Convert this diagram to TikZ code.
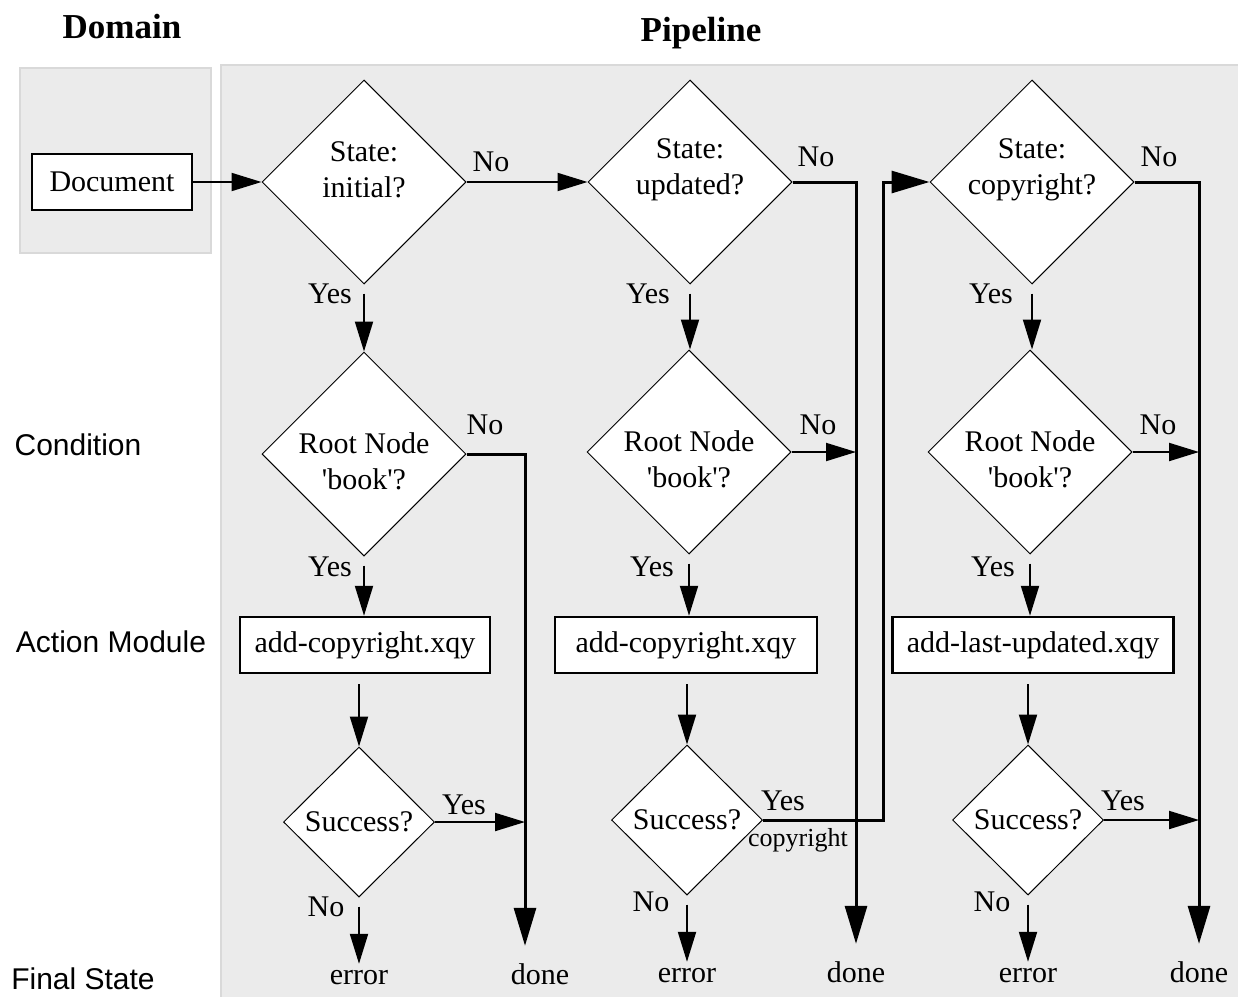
\documentclass[tikz,border=0pt]{standalone}
\usepackage{fontspec}
\setmainfont{Liberation Serif}
\setsansfont{Liberation Sans}
\usetikzlibrary{shapes.geometric,arrows.meta}

\begin{document}
\begin{tikzpicture}[x=1pt, y=-1pt,
                    every node/.style={font=\fontsize{30}{36}\selectfont,
                                       inner sep=0pt},
                    area/.style={fill=black!8, draw=black!15, line width=2pt},
                    ask/.style={diamond, draw, fill=white, line width=1pt,
                                minimum width=204pt, minimum height=204pt},
                    small/.style={minimum width=151pt, minimum height=150pt},
                    module/.style={draw, fill=white, line width=2.5pt,
                                   minimum height=56pt},
                    rowname/.style={font=\sffamily\fontsize{30}{36}\selectfont},
                    title/.style={font=\bfseries\fontsize{35}{40}\selectfont},
                    final/.style={text height=20pt, text depth=0pt},
                    arr/.style={line width=2pt,
                                -{Triangle[length=30pt,width=18pt]}},
                    route/.style={line width=3pt,
                                  -{Triangle[length=38pt,width=22pt]}}]
                      \useasboundingbox (0,0) rectangle (1238,996);
                      \filldraw[area] (20,68) rectangle (211,253);
                      \filldraw[area] (221,65) rectangle (1250,1010);

                      \node[title] (dom) at (122,27) {Domain};
                      \node[title] (pipe) at (701,33) {Pipeline};

                      \node[rowname] (cond) at (78,445) {Condition};
                      \node[rowname] (act) at (111,642) {Action Module};
                      \node[rowname] (fin) at (83,979) {Final State};

                      \node[module, minimum width=160pt] (doc) at (112,182) {Document};

                      \node[ask, label={[yshift=12pt, align=center]center:{State:\\initial?}}] (q1) at (364,182) {};
                      \node[ask, label={[yshift=12pt, align=center]center:{State:\\updated?}}] (q2) at (690,182) {};
                      \node[ask, label={[yshift=12pt, align=center]center:{State:\\copyright?}}] (q3) at (1032,182) {};

                      \node[ask, label={[yshift=-7pt, align=center]center:{Root Node\\\textquotesingle book\textquotesingle?}}] (r1) at (364,454) {};
                      \node[ask, label={[yshift=-7pt, align=center]center:{Root Node\\\textquotesingle book\textquotesingle?}}] (r2) at (689,452) {};
                      \node[ask, label={[yshift=-7pt, align=center]center:{Root Node\\\textquotesingle book\textquotesingle?}}] (r3) at (1030,452) {};

                      \node[module, minimum width=250pt] (a1) at (365,645) {add-copyright.xqy};
                      \node[module, minimum width=262pt] (a2) at (686,645) {add-copyright.xqy};
                      \node[module, minimum width=281pt] (a3) at (1033,645) {add-last-updated.xqy};

                      \node[ask, small, label={center:Success?}] (s1) at (359,822) {};
                      \node[ask, small, label={center:Success?}] (s2) at (687,820) {};
                      \node[ask, small, label={center:Success?}] (s3) at (1028,820) {};

                      \node[final] (e1) at (359,974) {error};
                      \node[final] (e2) at (687,972) {error};
                      \node[final] (e3) at (1028,972) {error};
                      \node[final] (d1) at (540,974) {done};
                      \node[final] (d2) at (856,972) {done};
                      \node[final] (d3) at (1199,972) {done};

                      \coordinate (bus1) at ([xshift=-15pt]d1.north);
                      \coordinate (loop) at (883,500);

                      \node (nq1) at (491,162) {No};
                      \node (nq2) at (816,157) {No};
                      \node (nq3) at (1159,157) {No};
                      \node (yq1) at (330,294) {Yes};
                      \node (yq2) at (648,294) {Yes};
                      \node (yq3) at (991,294) {Yes};
                      \node (nr1) at (485,425) {No};
                      \node (nr2) at (818,425) {No};
                      \node (nr3) at (1158,425) {No};
                      \node (yr1) at (330,567) {Yes};
                      \node (yr2) at (652,567) {Yes};
                      \node (yr3) at (993,567) {Yes};
                      \node (ys1) at (464,805) {Yes};
                      \node (ys2) at (783,801) {Yes};
                      \node (ys3) at (1123,801) {Yes};
                      \node (ns1) at (326,907) {No};
                      \node (ns2) at (651,902) {No};
                      \node (ns3) at (992,902) {No};
                      \node[font=\fontsize{26}{30}\selectfont] (cp) at (798,840) {copyright};

                      \draw[arr] (doc) -- (q1);
                      \draw[arr] (q1) -- (q2);
                      \draw[route, shorten >=18pt] (q2.east) -| (d2.north);
                      \draw[route, shorten >=18pt] (q3.east) -| (d3.north);
                      \draw[route, shorten >=18pt] (r1.east) -| (bus1);
                      \draw[route] (s2.east) -| (loop) |- (q3.west);
                      \draw[arr] (s1.east) -- (s1.east -| bus1);

                      \foreach \i/\j in {r2/d2, r3/d3, s3/d3} {
                              \draw[arr] (\i.east) -- (\i.east -| \j.north);
                          }
                      \foreach \i/\j in {q1/r1, q2/r2, q3/r3, r1/a1, r2/a2, r3/a3} {
                              \draw[arr, shorten <=9pt] (\i.south) -- (\i.south |- \j.north);
                          }
                      \foreach \i/\j in {a1/s1, a2/s2, a3/s3} {
                              \draw[arr, shorten <=10pt] (\i.south -| \j.north) -- (\j.north);
                          }
                      \foreach \i/\j in {s1/e1, s2/e2, s3/e3} {
                              \draw[arr, shorten <=9pt] (\i.south) -- (\j.north);
                          }
                  \end{tikzpicture}
\end{document}
